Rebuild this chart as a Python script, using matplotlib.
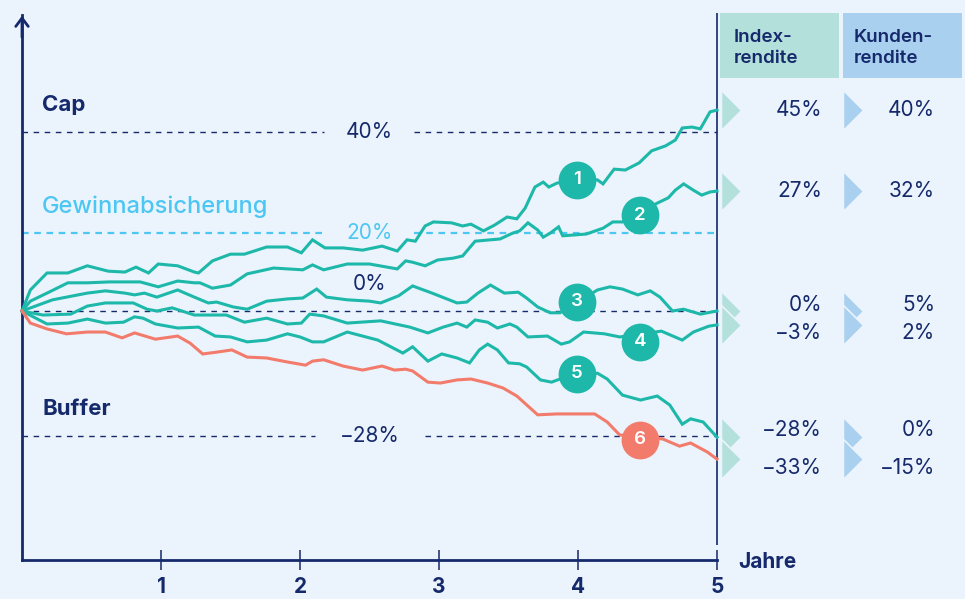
import matplotlib
matplotlib.use("Agg")
import matplotlib.pyplot as plt
from matplotlib.patches import Rectangle
from matplotlib.path import Path

plt.rcParams["font.family"] = ["Inter", "DejaVu Sans"]

# index paths (years, % return)
x1 = [0, 0.06, 0.18, 0.33, 0.47, 0.62, 0.74, 0.82, 0.91, 0.98, 1.12, 1.24, 1.27, 1.37, 1.50, 1.60, 1.76, 1.91,
      2.01, 2.09, 2.18, 2.31, 2.45, 2.59, 2.70, 2.77, 2.83, 2.90, 2.96, 3.09, 3.17, 3.23, 3.32, 3.40, 3.49, 3.56,
      3.62, 3.69, 3.75, 3.79, 3.85, 4.14, 4.18, 4.26, 4.34, 4.44, 4.53, 4.63, 4.70, 4.75, 4.82, 4.88, 4.95, 5.0]
y1 = [0, 4.7, 8.5, 8.5, 10.1, 8.9, 8.7, 9.8, 8.5, 10.5, 10.1, 8.7, 8.5, 11.2, 12.7, 12.7, 14.3, 14.3,
      13.0, 15.9, 14.1, 14.1, 13.6, 14.5, 13.4, 15.9, 15.6, 19.0, 19.9, 19.7, 19.0, 19.4, 17.9, 19.2, 21.0, 20.6,
      23.0, 27.7, 28.8, 27.7, 28.6, 29.3, 28.4, 31.7, 31.5, 33.1, 35.8, 36.9, 38.2, 40.9, 41.1, 40.7, 44.5, 44.9]
x2 = [0, 0.06, 0.18, 0.33, 0.47, 0.63, 0.85, 0.98, 1.12, 1.24, 1.28, 1.37, 1.50, 1.62, 1.81, 2.02, 2.09, 2.17,
      2.34, 2.50, 2.70, 2.76, 2.81, 2.90, 2.99, 3.10, 3.17, 3.26, 3.44, 3.53, 3.58, 3.64, 3.71, 3.75, 3.80, 3.86,
      3.89, 4.06, 4.18, 4.25, 4.32, 4.57, 4.65, 4.70, 4.76, 4.83, 4.89, 4.95, 5.0]
y2 = [0, 2.2, 4.0, 6.3, 6.3, 6.5, 6.5, 5.4, 6.7, 6.3, 6.3, 5.1, 5.8, 8.3, 9.6, 9.2, 10.3, 9.2,
      10.5, 10.5, 9.4, 11.2, 10.9, 10.1, 11.4, 11.8, 12.3, 15.6, 16.1, 17.4, 17.9, 19.7, 18.1, 16.5, 17.4, 18.8,
      16.8, 17.2, 18.5, 19.9, 19.9, 24.1, 25.3, 27.0, 28.4, 27.0, 25.9, 26.6, 26.8]
x3 = [0, 0.22, 0.47, 0.60, 0.74, 0.81, 0.88, 0.97, 1.12, 1.24, 1.34, 1.40, 1.52, 1.62, 1.76, 1.91, 2.02, 2.12,
      2.19, 2.34, 2.50, 2.58, 2.71, 2.81, 2.95, 3.13, 3.20, 3.28, 3.37, 3.47, 3.57, 3.63, 3.71, 3.80, 3.87, 4.14,
      4.23, 4.32, 4.43, 4.52, 4.59, 4.68, 4.76, 4.88, 5.0]
y3 = [0, 2.5, 4.0, 4.5, 4.0, 3.6, 4.0, 3.1, 4.7, 3.1, 1.8, 2.0, 0.9, 0.4, 2.2, 2.7, 2.9, 4.9,
      3.1, 2.5, 2.2, 1.8, 3.4, 5.6, 4.0, 1.8, 2.0, 4.0, 5.8, 4.0, 4.2, 2.9, 0.9, -0.4, -0.4, 4.7,
      5.4, 4.9, 3.6, 4.5, 3.1, 0, 0.4, -0.7, 0]
x4 = [0, 0.15, 0.35, 0.47, 0.60, 0.80, 0.90, 0.97, 1.08, 1.24, 1.47, 1.60, 1.76, 1.91, 2.01, 2.07, 2.17, 2.34,
      2.58, 2.79, 2.92, 3.03, 3.13, 3.20, 3.26, 3.35, 3.42, 3.51, 3.56, 3.64, 3.78, 3.88, 3.94, 4.04, 4.19, 4.30,
      4.60, 4.75, 4.83, 4.94, 5.0]
y4 = [0, -0.9, -0.7, 1.1, 1.8, 1.8, 0.4, 0, 0.7, -0.9, -0.9, -2.5, -1.6, -2.9, -2.7, -0.7, -1.1, -2.7,
      -2.2, -3.6, -4.9, -3.6, -2.7, -3.6, -2.0, -2.5, -3.8, -2.9, -3.6, -5.8, -5.6, -7.4, -6.9, -4.7, -5.1, -5.8,
      -4.5, -6.5, -4.7, -3.4, -3.1]
x5 = [0, 0.18, 0.33, 0.47, 0.60, 0.73, 0.81, 0.87, 0.96, 1.12, 1.27, 1.39, 1.50, 1.62, 1.76, 1.91, 2.00, 2.09,
      2.17, 2.34, 2.56, 2.74, 2.81, 2.92, 3.02, 3.13, 3.22, 3.29, 3.35, 3.42, 3.50, 3.58, 3.63, 3.73, 3.81, 3.87,
      4.14, 4.21, 4.32, 4.45, 4.57, 4.66, 4.75, 4.81, 4.90, 5.0]
y5 = [0, -2.9, -2.7, -1.8, -2.7, -2.5, -1.3, -1.6, -2.9, -3.8, -3.6, -5.6, -5.8, -6.9, -6.5, -5.1, -5.8, -6.9,
      -6.9, -4.7, -6.5, -9.4, -8.0, -11.2, -9.6, -10.5, -11.6, -8.7, -7.4, -8.7, -11.6, -11.8, -12.5, -15.4, -15.9, -15.2,
      -13.9, -15.2, -18.8, -19.9, -19.0, -21.0, -25.3, -24.1, -24.8, -28.2]
x6 = [0, 0.06, 0.18, 0.32, 0.47, 0.60, 0.72, 0.81, 0.96, 1.12, 1.21, 1.30, 1.40, 1.51, 1.62, 1.76, 1.91, 2.04,
      2.09, 2.17, 2.31, 2.45, 2.59, 2.68, 2.76, 2.81, 2.92, 3.01, 3.13, 3.23, 3.35, 3.46, 3.56, 3.71, 3.85, 4.12,
      4.21, 4.30, 4.61, 4.73, 4.81, 4.93, 5.0]
y6 = [0, -2.7, -4.0, -5.1, -4.7, -4.7, -6.0, -4.9, -6.3, -5.6, -7.2, -9.6, -9.2, -8.7, -10.3, -10.5, -11.4, -12.1,
      -11.2, -10.9, -12.3, -13.2, -12.3, -13.2, -13.0, -13.4, -15.9, -16.1, -15.4, -15.2, -16.1, -17.2, -19.0, -23.2, -23.0, -23.0,
      -24.8, -27.7, -28.6, -30.2, -29.5, -31.5, -33.1]

index_ret = [45, 27, 0, -3, -28, -33]
kunden_ret = [40, 32, 5, 2, 0, -15]
cap, gain_lock, buffer = 40, 20, -28
years = [1, 2, 3, 4, 5]

BG = "#EBF4FC"
NAVY = "#15296B"
TEAL = "#1DB8A9"
RED = "#F27B6C"
LBLUE = "#4CC6F2"
BOX_I = "#B3E0DA"
BOX_K = "#A9D0EE"


# pixel helpers for layout (0% at y=311px, 1 year = 139px, 1% = 4.475px)
def X(px):
    return (px - 22) / 139


def Y(py):
    return (311 - py) / 4.475


fig = plt.figure(figsize=(9.65, 5.99), dpi=100)
fig.patch.set_facecolor(BG)
ax = fig.add_axes([0, 0, 1, 1])
ax.set_facecolor(BG)
ax.set_xlim(X(0), X(965))
ax.set_ylim(Y(599), Y(0))

# axes
for s in ["top", "right"]:
    ax.spines[s].set_visible(False)
ax.spines["left"].set_position(("data", 0))
ax.spines["left"].set_bounds(Y(560), Y(15))
ax.spines["bottom"].set_position(("data", Y(560)))
ax.spines["bottom"].set_bounds(0, 5)
for s in ["left", "bottom"]:
    ax.spines[s].set_color(NAVY)
    ax.spines[s].set_linewidth(2.0)
ax.set_yticks([])
ax.set_xticks(years)
ax.set_xticklabels([str(v) for v in years], fontsize=15, fontweight="bold", color=NAVY)
ax.tick_params(axis="x", direction="inout", length=14, width=1.1, color=NAVY, pad=5)
ax.annotate("", xy=(0, Y(13)), xytext=(0, Y(40)),
            arrowprops=dict(arrowstyle="->,head_length=0.6,head_width=0.45", color=NAVY, lw=2.0))
ax.vlines(5, Y(545), Y(13), color=NAVY, lw=1.2)
ax.text(X(738), Y(562), "Jahre", fontsize=15, fontweight="bold", color=NAVY, va="center", ha="left")

# reference levels
ax.hlines([cap, cap], [0, X(414)], [X(324), 5], color=NAVY, lw=1.0, ls=(0, (4, 4)))
ax.hlines([Y(233), Y(233)], [0, X(414)], [X(323), 5], color=LBLUE, lw=1.6, ls=(0, (3, 2.5)))
ax.hlines(0, 0, 5, color=NAVY, lw=1.0, ls=(0, (4, 4)))
ax.hlines([buffer, buffer], [0, X(425)], [X(315), 5], color=NAVY, lw=1.0, ls=(0, (4, 4)))
ax.text(2.5, cap, f"{cap}%", fontsize=15, color=NAVY, ha="center", va="center")
ax.text(2.5, Y(233), f"{gain_lock}%", fontsize=15, color=LBLUE, ha="center", va="center")
ax.text(2.5, Y(284), "0%", fontsize=15, color=NAVY, ha="center", va="center")
ax.text(2.5, buffer, f"\u2212{abs(buffer)}%", fontsize=15, color=NAVY, ha="center", va="center")
ax.text(X(42), Y(105), "Cap", fontsize=16, fontweight="bold", color=NAVY, va="center")
ax.text(X(42), Y(207), "Gewinnabsicherung", fontsize=17, fontweight="medium", color=LBLUE, va="center")
ax.text(X(42), Y(409), "Buffer", fontsize=16, fontweight="bold", color=NAVY, va="center")

# paths
series = [(x1, y1, TEAL), (x2, y2, TEAL), (x3, y3, TEAL), (x4, y4, TEAL), (x5, y5, TEAL), (x6, y6, RED)]
for xs, ys, c in series:
    assert len(xs) == len(ys)
    ax.plot(xs, ys, color=c, lw=2.2, solid_joinstyle="miter", zorder=3)

# numbered badges
badge_x = [X(577), X(640), X(577), X(640), X(577), X(640)]
badge_y = [Y(180), Y(215), Y(302), Y(342), Y(374), Y(440)]
for i, (bx, by) in enumerate(zip(badge_x, badge_y)):
    c = RED if i == 5 else TEAL
    ax.scatter(bx, by, s=740, color=c, zorder=5, linewidths=0)
    ax.text(bx, by, str(i + 1), color="white", fontsize=13.5, fontweight="semibold",
            ha="center", va="center", zorder=6)

# table on the right
ax.add_patch(Rectangle((X(720), Y(78)), X(839) - X(720), Y(13) - Y(78), color=BOX_I, lw=0))
ax.add_patch(Rectangle((X(843), Y(78)), X(962) - X(843), Y(13) - Y(78), color=BOX_K, lw=0))
ax.text(X(734), Y(48), "Index-\nrendite", fontsize=13.5, fontweight="semibold", color=NAVY,
        va="center", ha="left", linespacing=1.3)
ax.text(X(854), Y(48), "Kunden-\nrendite", fontsize=13.5, fontweight="semibold", color=NAVY,
        va="center", ha="left", linespacing=1.3)

tri = Path([(-0.5, -1), (0.5, 0), (-0.5, 1), (-0.5, -1)])
ends = [ys[-1] for _, ys, _ in series]
nudge = [0, 0, Y(305) - Y(311), Y(333) - Y(325), Y(430) - Y(437), Y(468) - Y(459)]
ax.plot([X(730.5)] * len(ends), ends, ls="none", marker=tri, ms=29, mfc=BOX_I, mec=BG, mew=1.2, zorder=4)
ax.plot([X(852.5)] * len(ends), ends, ls="none", marker=tri, ms=29, mfc=BOX_K, mec=BG, mew=1.2, zorder=4)


def fmt(v):
    return f"\u2212{abs(v)}%" if v < 0 else f"{v}%"


for e, n, vi, vk in zip(ends, nudge, index_ret, kunden_ret):
    ax.text(X(822), e + n, fmt(vi), fontsize=15, color=NAVY, ha="right", va="center")
    ax.text(X(935), e + n, fmt(vk), fontsize=15, color=NAVY, ha="right", va="center")

fig.savefig("out.png", dpi=100, facecolor=BG)
